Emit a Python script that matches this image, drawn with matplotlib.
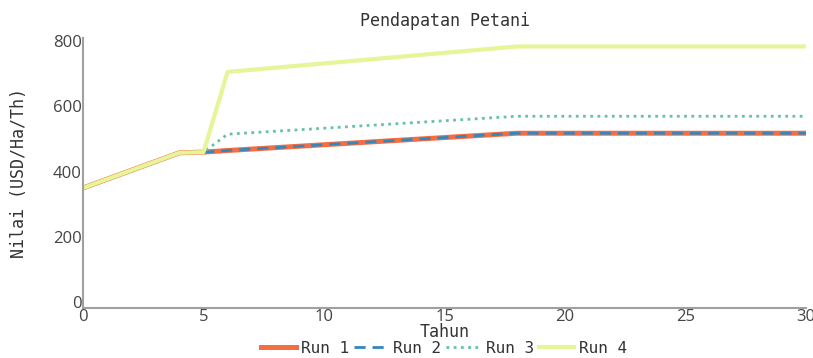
import matplotlib.pyplot as plt
import numpy as np

# Data
tahun = [0, 4, 5, 6, 18, 30]
run1 = [350, 458, 460, 465, 518, 518]
run2 = [350, 458, 460, 465, 518, 518]
run3 = [350, 458, 460, 515, 570, 570]
run4 = [350, 458, 460, 706, 784, 784]

labels = ['Run 1', 'Run 2', 'Run 3', 'Run 4']
colors = ['#f46d43', '#3288bd', '#66c2a5', '#e6f598']
styles = ['-', (0, (4, 2.5)), (0, (1, 1.6)), '-']
widths = [3.6, 2, 2, 3]

fig = plt.figure(figsize=(8.13, 3.58), dpi=100)
ax = fig.add_axes([83 / 813, 50 / 358, 723 / 813, 270 / 358])

for y, lab, c, ls, lw in zip([run1, run2, run3, run4], labels, colors, styles, widths):
    ax.plot(tahun, y, color=c, linestyle=ls, linewidth=lw, label=lab)

ax.set_xlim(0, 30)
ax.set_ylim(-18, 810)
ax.set_xticks([0, 5, 10, 15, 20, 25, 30])
ax.set_yticks([0, 200, 400, 600, 800])
ax.tick_params(length=0, labelsize=12, colors='#444444', pad=1)
for lbl in ax.get_xticklabels() + ax.get_yticklabels():
    lbl.set_family('Open Sans')

for s in ['top', 'right']:
    ax.spines[s].set_visible(False)
for s in ['left', 'bottom']:
    ax.spines[s].set_color('#a0a0a0')
    ax.spines[s].set_linewidth(1.5)

mono = 'DejaVu Sans Mono'
ax.set_title('Pendapatan Petani', family=mono, fontsize=12, color='#333333', pad=9)
ax.set_xlabel('Tahun', family=mono, fontsize=12, color='#333333', labelpad=-2)
ax.set_ylabel('Nilai (USD/Ha/Th)', family=mono, fontsize=12, color='#333333', labelpad=18)

fig.legend(loc='center', bbox_to_anchor=(444 / 813, 9.5 / 358), ncol=4, frameon=False,
           prop={'family': mono, 'size': 11.5}, handlelength=2.2, handletextpad=0.3,
           columnspacing=0.3, labelcolor='#333333', borderpad=0)

fig.savefig('out.png', dpi=100)
